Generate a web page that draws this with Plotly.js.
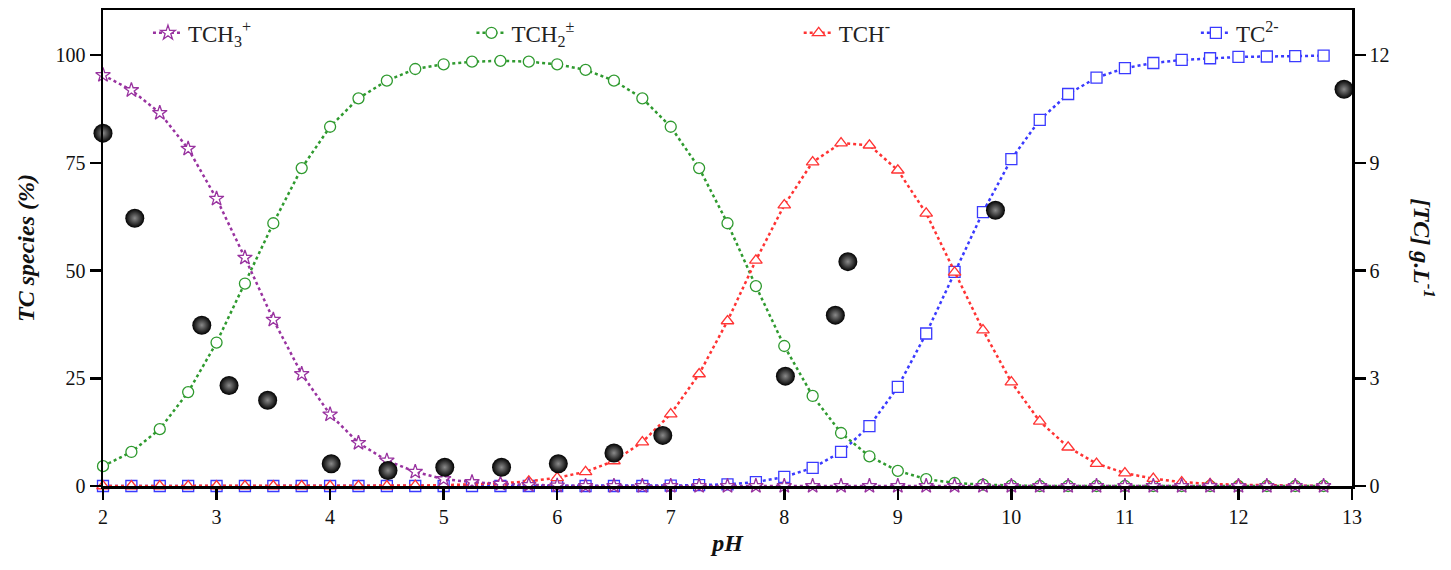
<!DOCTYPE html>
<html>
<head>
<meta charset="utf-8">
<script src="https://cdn.plot.ly/plotly-3.0.1.min.js"></script>
<style>
  html, body { margin: 0; padding: 0; background: white; }
  #chart { width: 1451px; height: 570px; }
</style>
</head>
<body>
<div id="chart"></div>
<script>
// pH grid of the speciation curves
var ph = [2, 2.25, 2.5, 2.75, 3, 3.25, 3.5, 3.75, 4, 4.25, 4.5, 4.75, 5, 5.25, 5.5, 5.75,
          6, 6.25, 6.5, 6.75, 7, 7.25, 7.5, 7.75, 8, 8.25, 8.5, 8.75, 9, 9.25, 9.5, 9.75,
          10, 10.25, 10.5, 10.75, 11, 11.25, 11.5, 11.75, 12, 12.25, 12.5, 12.75];

// species fractions (%)
var tch3 = [95.4, 91.9, 86.6, 78.3, 66.7, 53, 38.6, 26, 16.6, 10, 5.9, 3.3, 1.6, 0.9, 0.5, 0.25,
            0.1, 0, 0, 0, 0, 0, 0, 0, 0, 0, 0, 0, 0, 0, 0, 0,
            0, 0, 0, 0, 0, 0, 0, 0, 0, 0, 0, 0];
var tch2 = [4.6, 7.9, 13.2, 21.8, 33.3, 47, 61, 73.8, 83.4, 90, 94.1, 96.8, 97.9, 98.5, 98.7, 98.5,
            97.9, 96.6, 94.1, 90, 83.4, 73.8, 61, 46.4, 32.5, 20.9, 12.3, 6.9, 3.5, 1.6, 0.7, 0.3,
            0.1, 0, 0, 0, 0, 0, 0, 0, 0, 0, 0, 0];
var tch  = [0, 0, 0, 0, 0, 0, 0, 0, 0, 0, 0, 0.1, 0.2, 0.35, 0.6, 1.1,
            1.9, 3.3, 5.8, 10.2, 16.7, 26, 38.3, 52.4, 65.2, 75.2, 79.6, 79.1, 73.3, 63.3, 49.6, 36.2,
            24.1, 15, 9, 5.2, 3, 1.7, 0.9, 0.5, 0.3, 0.15, 0.1, 0.05];
var tc   = [0, 0, 0, 0, 0, 0, 0, 0, 0, 0, 0, 0, 0, 0, 0, 0,
            0, 0, 0, 0, 0.1, 0.2, 0.4, 0.9, 2.1, 4.2, 7.9, 13.9, 23, 35.4, 49.7, 63.6,
            75.9, 85, 91, 94.8, 97, 98.2, 98.9, 99.3, 99.6, 99.7, 99.8, 99.9];

// measured [TC] (g/L)
var phMeas   = [2.0, 2.28, 2.87, 3.11, 3.45, 4.01, 4.51, 5.01, 5.51, 6.01, 6.5, 6.93, 8.01, 8.45, 8.56, 9.86, 12.93];
var concMeas = [9.83, 7.46, 4.48, 2.8, 2.39, 0.62, 0.43, 0.52, 0.52, 0.62, 0.92, 1.41, 3.06, 4.76, 6.25, 7.68, 11.05];

// drawn back to front: TC2-, TCH2±, TCH-, TCH3+ (stars end up on top at the baseline)
var names   = ['TC<sup>2-</sup>', 'TCH<sub>2</sub><sup>±</sup>', 'TCH<sup>-</sup>', 'TCH<sub>3</sub><sup>+</sup>'];
var series  = [tc, tch2, tch, tch3];
var colors  = ['#3a3aff', '#2f9a2f', '#ff3333', '#9933a0'];
var symbols = ['square', 'circle', 'triangle-up', 'star'];
var legends = ['legend4', 'legend2', 'legend3', 'legend'];

var traces = [];
series.forEach(function(vals, i) {
  traces.push({
    x: ph, y: vals, name: names[i], legend: legends[i],
    type: 'scatter', mode: 'lines+markers', cliponaxis: false,
    line: { color: colors[i], width: 2.5, dash: 'dot' },
    // white-filled so the dotted line does not show through the symbol
    marker: { symbol: symbols[i], size: 11, color: 'white', line: { width: 1.3, color: colors[i] } }
  });
});

traces.push({
  x: phMeas, y: concMeas, yaxis: 'y2', type: 'scatter', mode: 'markers',
  showlegend: false, cliponaxis: false,
  marker: { size: 19, color: '#000000', line: { width: 0 },
            gradient: { type: 'radial', color: '#8a8a8a' } }
});

var serif = 'Liberation Serif';
var tickf = { family: serif, size: 20, color: '#111' };
var legBase = { orientation: 'h', yanchor: 'middle', y: 0.952, xanchor: 'left',
                bgcolor: 'rgba(0,0,0,0)', font: { size: 23, color: '#222', family: serif } };

var layout = {
  width: 1451, height: 570,
  paper_bgcolor: 'white', plot_bgcolor: 'white',
  font: { family: serif, color: '#111', size: 20 },
  margin: { l: 103, r: 99, t: 10, b: 84 },
  xaxis: { range: [2, 13], dtick: 1, tick0: 2, showline: true, mirror: true,
           linecolor: 'black', linewidth: 2.5, ticks: 'outside', ticklen: 11, tickwidth: 2.5,
           tickcolor: 'black', showgrid: false, zeroline: false, tickfont: tickf,
           title: { text: '<b><i>pH</i></b>', font: { size: 24, family: serif }, standoff: 8 } },
  yaxis: { range: [0, 110.5], tickvals: [0, 25, 50, 75, 100], showline: true,
           linecolor: 'black', linewidth: 2.5, ticks: 'outside', ticklen: 11, tickwidth: 2.5,
           tickcolor: 'black', showgrid: false, zeroline: false, tickfont: tickf,
           title: { text: '<b><i>TC species (%)</i></b>', font: { size: 24, family: serif }, standoff: 14 } },
  yaxis2: { overlaying: 'y', side: 'right', range: [0, 13.26], tickvals: [0, 3, 6, 9, 12],
            showline: true, linecolor: 'black', linewidth: 2.5, ticks: 'outside', ticklen: 11,
            tickwidth: 2.5, tickcolor: 'black', showgrid: false, zeroline: false, tickfont: tickf },
  annotations: [{ text: '<b><i>[TC] g.L<sup>-1</sup></i></b>', textangle: 90, showarrow: false,
                  xref: 'paper', yref: 'paper', x: 1.058, y: 0.5, xanchor: 'center', yanchor: 'middle',
                  font: { size: 24, family: serif, color: '#111' } }],
  legend:  Object.assign({}, legBase, { x: 0.036 }),
  legend2: Object.assign({}, legBase, { x: 0.295 }),
  legend3: Object.assign({}, legBase, { x: 0.557 }),
  legend4: Object.assign({}, legBase, { x: 0.875 })
};

Plotly.newPlot('chart', traces, layout, { displayModeBar: false, staticPlot: true });
</script>
</body>
</html>
